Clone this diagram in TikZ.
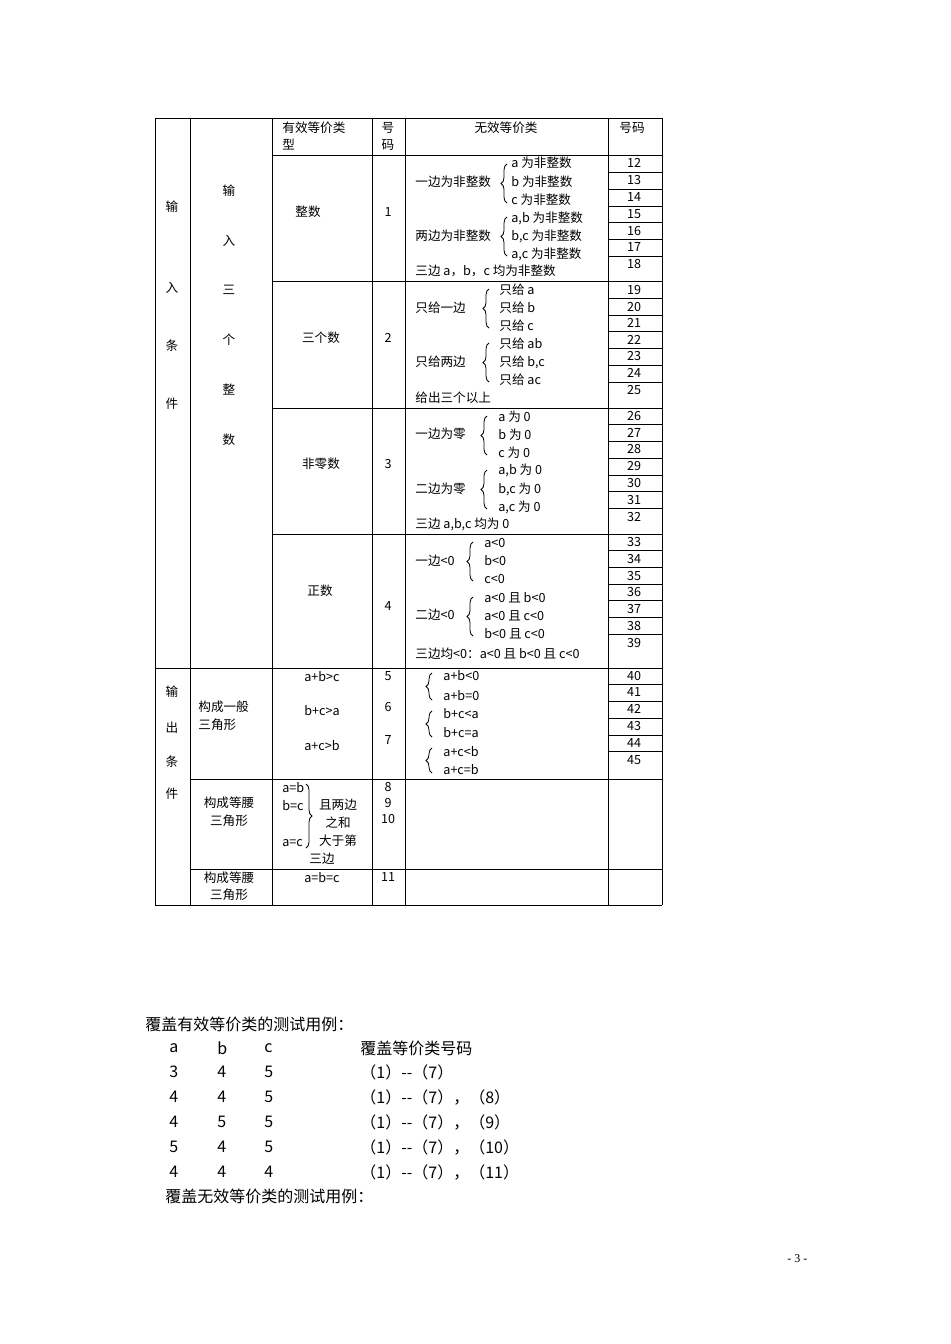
\documentclass[tikz,border=0pt]{standalone}
\usepackage{fontspec}
\setmainfont{Liberation Serif}
\newfontfamily\cjk{Noto Sans CJK SC}
\usetikzlibrary{decorations.pathreplacing}
\tikzset{x=0.5pt,y=-0.5pt,
 grid/.style={line width=0.5pt},
 t/.style={inner sep=0pt,font=\cjk\fontsize{6.3}{7}\selectfont},
 tw/.style={t,anchor=west},
 big/.style={inner sep=0pt,anchor=west,font=\cjk\fontsize{8}{9}\selectfont},
 br/.style={decorate,decoration={brace,amplitude=3pt},line width=0.4pt},
}
\newcommand{\C}[3]{\node[t] at (#1,#2) {#3};}
\newcommand{\W}[3]{\node[tw] at (#1,#2) {#3};}
\newcommand{\B}[3]{\draw[br] (#1,#3) -- (#1,#2);}
\begin{document}
\begin{tikzpicture}
\useasboundingbox (0,0) rectangle (950,1344);
% grid
\foreach \x in {155,190,272,372,405,608,662} \draw[grid] (\x,118) -- (\x,905);
\draw[grid] (155,118) -- (662,118);
\draw[grid] (155,668) -- (662,668);
\draw[grid] (155,905) -- (662,905);
\foreach \y in {155,281,408,534} \draw[grid] (272,\y) -- (662,\y);
\foreach \y in {779,869} \draw[grid] (190,\y) -- (662,\y);
\foreach \y in {172,189,206,222,239,256, 298,315,331,348,365,382, 424,441,458,475,491,508, 550,567,584,600,617,634, 684,701,718,735,751}
  \draw[grid] (608,\y) -- (662,\y);
% numbers
\foreach \n/\y in {12/163,13/180,14/197,15/214,16/231,17/247,18/264,
 19/290,20/307,21/323,22/340,23/356,24/373,25/390,
 26/416,27/433,28/449,29/466,30/483,31/500,32/517,
 33/542,34/559,35/576,36/592,37/609,38/626,39/643,
 40/676,41/692,42/709,43/726,44/743,45/760}
 \node[t] at (634,\y) {\n};
% header
\W{282}{128}{有效等价类}\W{282}{145}{型}
\C{388}{128}{号}\C{388}{145}{码}
\C{506}{128}{无效等价类}\C{632}{128}{号码}
% col1, col2
\C{172}{207}{输}\C{172}{288}{入}\C{172}{346}{条}\C{172}{404}{件}
\C{229}{191}{输}\C{229}{241}{入}\C{229}{290}{三}\C{229}{340}{个}\C{229}{390}{整}\C{229}{440}{数}
\C{172}{692}{输}\C{172}{728}{出}\C{172}{762}{条}\C{172}{794}{件}
% valid
\C{308}{212}{整数}\C{388}{212}{1}
\C{321}{338}{三个数}\C{388}{338}{2}
\C{321}{464}{非零数}\C{388}{464}{3}
\C{320}{591}{正数}\C{388}{606}{4}
% row1 invalid
\W{415}{182}{一边为非整数}\B{507}{164}{203}
\W{511}{163}{a 为非整数}\W{511}{182}{b 为非整数}\W{511}{200}{c 为非整数}
\W{415}{236}{两边为非整数}\B{507}{217}{256}
\W{511}{218}{a,b 为非整数}\W{511}{236}{b,c 为非整数}\W{511}{254}{a,c 为非整数}
\W{415}{271}{三边 a，b，c 均为非整数}
% row2
\W{415}{308}{只给一边}\B{489}{289}{328}
\W{499}{290}{只给 a}\W{499}{308}{只给 b}\W{499}{326}{只给 c}
\W{415}{362}{只给两边}\B{489}{343}{382}
\W{499}{344}{只给 ab}\W{499}{362}{只给 b,c}\W{499}{380}{只给 ac}
\W{415}{398}{给出三个以上}
% row3
\W{415}{434}{一边为零}\B{487}{416}{455}
\W{498}{417}{a 为 0}\W{498}{435}{b 为 0}\W{498}{453}{c 为 0}
\W{415}{489}{二边为零}\B{487}{470}{509}
\W{498}{470}{a,b 为 0}\W{498}{489}{b,c 为 0}\W{498}{507}{a,c 为 0}
\W{415}{524}{三边 a,b,c 均为 0}
% row4
\W{415}{561}{一边<0}\B{473}{542}{581}
\W{484}{543}{a<0}\W{484}{561}{b<0}\W{484}{579}{c<0}
\W{415}{615}{二边<0}\B{473}{597}{636}
\W{484}{598}{a<0 且 b<0}\W{484}{616}{a<0 且 c<0}\W{484}{634}{b<0 且 c<0}
\W{415}{654}{三边均<0：a<0 且 b<0 且 c<0}
% output row1
\B{432}{673}{700}\W{443}{676}{a+b<0}\W{443}{696}{a+b=0}
\B{432}{711}{737}\W{443}{714}{b+c<a}\W{443}{733}{b+c=a}
\B{432}{748}{773}\W{443}{752}{a+c<b}\W{443}{770}{a+c=b}
\W{198}{707}{构成一般}\W{198}{725}{三角形}
\C{322}{677}{a+b>c}\C{322}{711}{b+c>a}\C{322}{746}{a+c>b}
\C{388}{676}{5}\C{388}{707}{6}\C{388}{740}{7}
% isosceles
\C{229}{803}{构成等腰}\C{229}{821}{三角形}
\W{282}{788}{a=b}\W{282}{806}{b=c}\W{282}{843}{a=c}
\draw[br] (306,784) -- (306,848);
\C{338}{805}{且两边}\C{338}{823}{之和}\C{338}{841}{大于第}\C{322}{859}{三边}
\C{388}{787}{8}\C{388}{803}{9}\C{388}{819}{10}
% last
\C{229}{878}{构成等腰}\C{229}{895}{三角形}
\C{322}{878}{a=b=c}\C{388}{877}{11}
% bottom text
\node[big] at (145,1024) {覆盖有效等价类的测试用例：};
\foreach \y/\a/\b/\c/\d in {1048/a/b/c/覆盖等价类号码,1072/3/4/5/（1）--（7）,1097/4/4/5/（1）--（7），（8）,1122/4/5/5/（1）--（7），（9）,1147/5/4/5/（1）--（7），（10）,1172/4/4/4/（1）--（7），（11）}{
 \node[big] at (169,\y) {\a};\node[big] at (217,\y) {\b};\node[big] at (264,\y) {\c};\node[big] at (360,\y) {\d};}
\node[big] at (165,1196) {覆盖无效等价类的测试用例：};
\node[inner sep=0pt,anchor=west,font=\fontsize{6}{7}\selectfont] at (787,1259) {- 3 -};
\end{tikzpicture}
\end{document}
